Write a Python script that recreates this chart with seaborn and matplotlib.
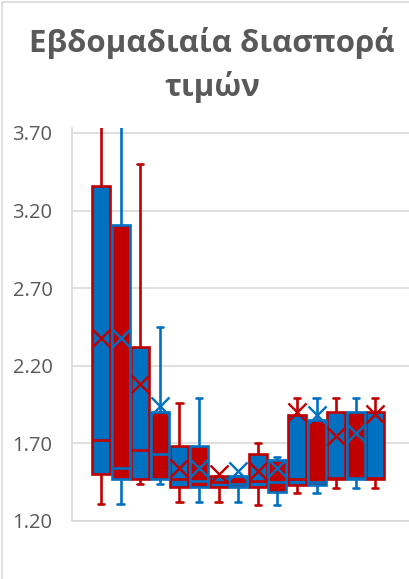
import numpy as np
import pandas as pd
import matplotlib
matplotlib.use('Agg')
import matplotlib.pyplot as plt
from matplotlib.lines import Line2D
import seaborn as sns

# weekly price spread: min, Q1, median, Q3, max and mean per week
weeks = ['Εβδ. %d' % i for i in range(1, 16)]
mins = [1.31, 1.31, 1.44, 1.44, 1.32, 1.32, 1.32, 1.32, 1.30, 1.30, 1.38, 1.38, 1.41, 1.41, 1.41]
q1s = [1.50, 1.47, 1.47, 1.47, 1.42, 1.42, 1.42, 1.42, 1.42, 1.39, 1.43, 1.43, 1.47, 1.47, 1.47]
medians = [1.72, 1.54, 1.66, 1.63, 1.47, 1.46, 1.45, 1.44, 1.46, 1.45, 1.47, 1.45, 1.48, 1.48, 1.48]
q3s = [3.36, 3.11, 2.32, 1.90, 1.68, 1.68, 1.49, 1.49, 1.63, 1.59, 1.88, 1.85, 1.90, 1.90, 1.90]
maxs = [3.80, 3.80, 3.50, 2.45, 1.96, 1.99, 1.49, 1.49, 1.70, 1.61, 1.99, 1.99, 1.99, 1.99, 1.99]
means = [2.38, 2.38, 2.08, 1.94, 1.54, 1.54, 1.50, 1.52, 1.52, 1.54, 1.90, 1.88, 1.75, 1.77, 1.89]

BLUE = '#0070C0'
RED = '#C00000'
GRAY = '#595959'
GRID = '#D9D9D9'

# five-number summaries as long-form rows (quartiles of 5 sorted values = Q1/Q3)
rows = []
for i, w in enumerate(weeks):
    for v in (mins[i], q1s[i], medians[i], q3s[i], maxs[i]):
        rows.append({'week': w, 'value': v, 'group': i % 2})
df = pd.DataFrame(rows)
df_mean = pd.DataFrame({'week': weeks, 'pos': np.arange(len(weeks)), 'mean': means,
                        'group': [i % 2 for i in range(len(weeks))]})

sns.set_style('white')
plt.rcParams['font.family'] = ['Open Sans', 'DejaVu Sans']

fig = plt.figure(figsize=(4.10, 5.79), dpi=100)
ax = fig.add_axes([72 / 410, 58 / 579, 338 / 410, 393 / 579])

styles = {0: (BLUE, RED), 1: (RED, BLUE)}
for g, (fill, line) in styles.items():
    sns.boxplot(data=df[df['group'] == g], x='week', y='value', order=weeks,
                color=fill, linecolor=line, saturation=1, width=0.92,
                whis=(0, 100), linewidth=1.9, showfliers=False, ax=ax)
    m = df_mean[df_mean['group'] == g]
    sns.scatterplot(x=m['pos'], y=m['mean'], marker='x', color=line, s=170,
                    linewidth=1.7, zorder=5, ax=ax)

# shorter caps like the original
for ln in ax.lines:
    xd = ln.get_xdata()
    yd = ln.get_ydata()
    if len(xd) == 2 and yd[0] == yd[1] and abs(xd[1] - xd[0]) < 0.5:
        c = (xd[0] + xd[1]) / 2
        ln.set_xdata([c - 0.16, c + 0.16])

ax.set_xlim(-1.48, 15.77)
ax.set_ylim(1.2, 3.732)
ax.set_yticks([1.2, 1.7, 2.2, 2.7, 3.2, 3.7])
ax.set_yticklabels(['%.2f' % t for t in [1.2, 1.7, 2.2, 2.7, 3.2, 3.7]])
ax.set_xticks([])
ax.set_xlabel('')
ax.set_ylabel('')
ax.yaxis.grid(True, color=GRID, linewidth=1.2)
ax.set_axisbelow(True)
ax.tick_params(axis='y', length=0, pad=14, labelsize=14.5, labelcolor=GRAY)
for s in ['top', 'right']:
    ax.spines[s].set_visible(False)
for s in ['left', 'bottom']:
    ax.spines[s].set_color(GRID)
    ax.spines[s].set_linewidth(1.2)

fig.text(212 / 410, 1 - 65 / 579, 'Εβδομαδιαία διασπορά\nτιμών', ha='center', va='center',
         fontsize=22.5, fontweight='bold', color=GRAY, linespacing=1.45)

# chart frame edges
fig.add_artist(Line2D([2 / 410, 1], [1 - 2 / 579, 1 - 2 / 579], color=GRID, lw=1.2))
fig.add_artist(Line2D([2 / 410, 2 / 410], [0, 1 - 2 / 579], color=GRID, lw=1.2))

fig.savefig('out.png', dpi=100)
